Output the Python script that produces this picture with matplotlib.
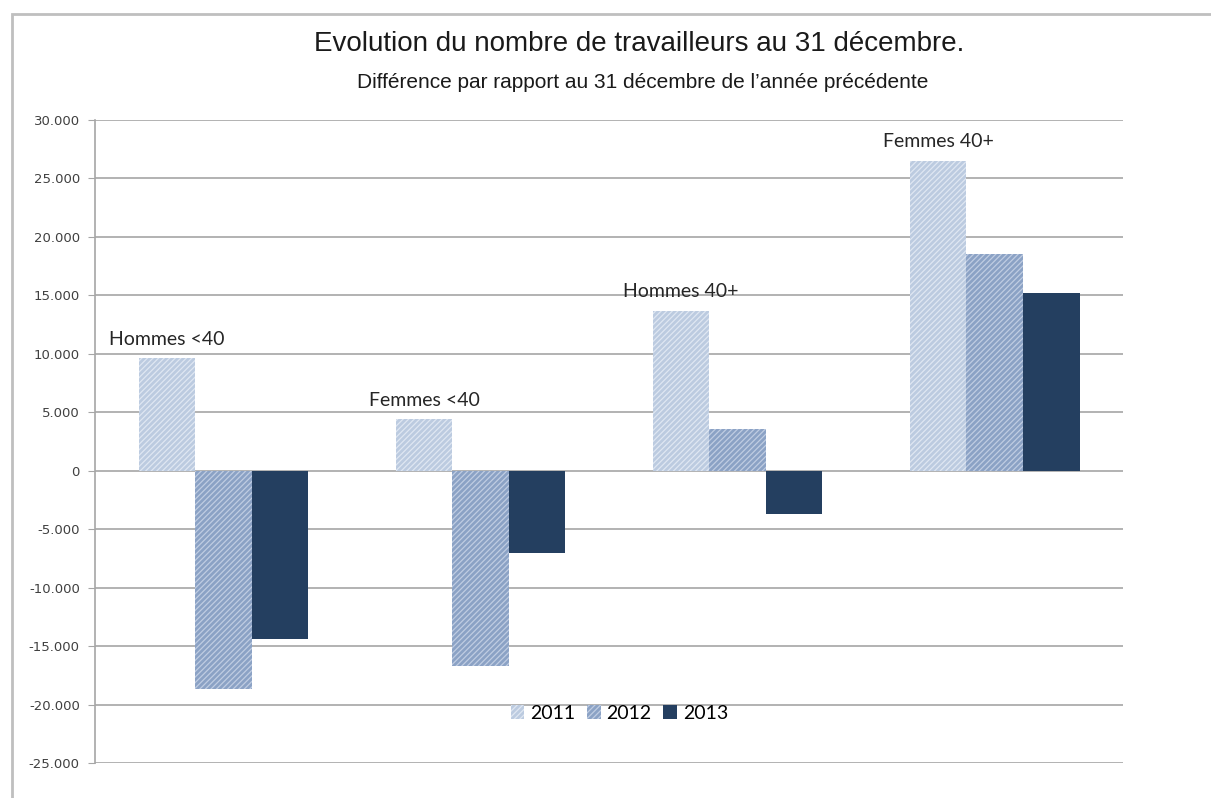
import numpy as np
import matplotlib.pyplot as plt
from matplotlib.patches import Rectangle
from matplotlib.ticker import FuncFormatter

categories = ['Hommes <40', 'Femmes <40', 'Hommes 40+', 'Femmes 40+']
years = ['2011', '2012', '2013']
v2011 = [9600, 4400, 13700, 26500]
v2012 = [-18700, -16700, 3600, 18500]
v2013 = [-14400, -7000, -3700, 15200]

plt.rcParams['hatch.linewidth'] = 0.9

fig = plt.figure(figsize=(12.11, 7.98), dpi=100)
ax = fig.add_axes([0.0785, 0.0439, 0.849, 0.8057])

# outer chart frame (left + top only visible)
fig.patches.append(Rectangle((0.0099, -0.05), 1.2, 1.0325, transform=fig.transFigure,
                             fill=False, edgecolor='#bfbfbf', linewidth=2.0, zorder=0))

x = np.arange(len(categories))
w = 0.22
styles = [
    dict(facecolor='#bccbe0', edgecolor='#dfe7f2', hatch='//////'),
    dict(facecolor='#8ba2c5', edgecolor='#c0cde2', hatch='//////'),
    dict(facecolor='#243f60', edgecolor='#243f60', hatch=None),
]
series = [v2011, v2012, v2013]
for i, (vals, st) in enumerate(zip(series, styles)):
    ax.bar(x + (i - 1) * w, vals, w, label=years[i], linewidth=0, zorder=3, **st)

for i, cat in enumerate(categories):
    ax.text(x[i] - w, v2011[i] + 900, cat, ha='center', va='bottom',
            fontsize=14, family='Lato', color='#262626')

ax.set_xlim(-0.5, len(categories) - 0.5)
ax.set_ylim(-25000, 30000)
ax.set_yticks(np.arange(-25000, 30001, 5000))
ax.yaxis.set_major_formatter(FuncFormatter(lambda v, p: f'{int(v):,}'.replace(',', '.')))
ax.grid(axis='y', color='#a6a6a6', linewidth=1.2, zorder=0)
ax.set_xticks([])
for s in ['top', 'right', 'bottom']:
    ax.spines[s].set_visible(False)
ax.spines['left'].set_color('#a6a6a6')
ax.spines['left'].set_linewidth(1.2)
ax.tick_params(axis='y', length=5, color='#a6a6a6', labelsize=9.5, labelcolor='#404040', pad=6)

leg = ax.legend(loc='center', bbox_to_anchor=(0.51, 0.077), ncol=3, frameon=False,
                handlelength=0.7, handleheight=0.7, handletextpad=0.3,
                columnspacing=0.6, prop={'family': 'Lato', 'size': 14})

fig.text(0.528, 0.945, 'Evolution du nombre de travailleurs au 31 décembre.',
         ha='center', va='center', fontsize=20, family='Liberation Sans', color='#1a1a1a')
fig.text(0.531, 0.897, "Différence par rapport au 31 décembre de l\u2019année précédente",
         ha='center', va='center', fontsize=15, family='Liberation Sans', color='#1a1a1a')

fig.savefig('out.png', dpi=100)
